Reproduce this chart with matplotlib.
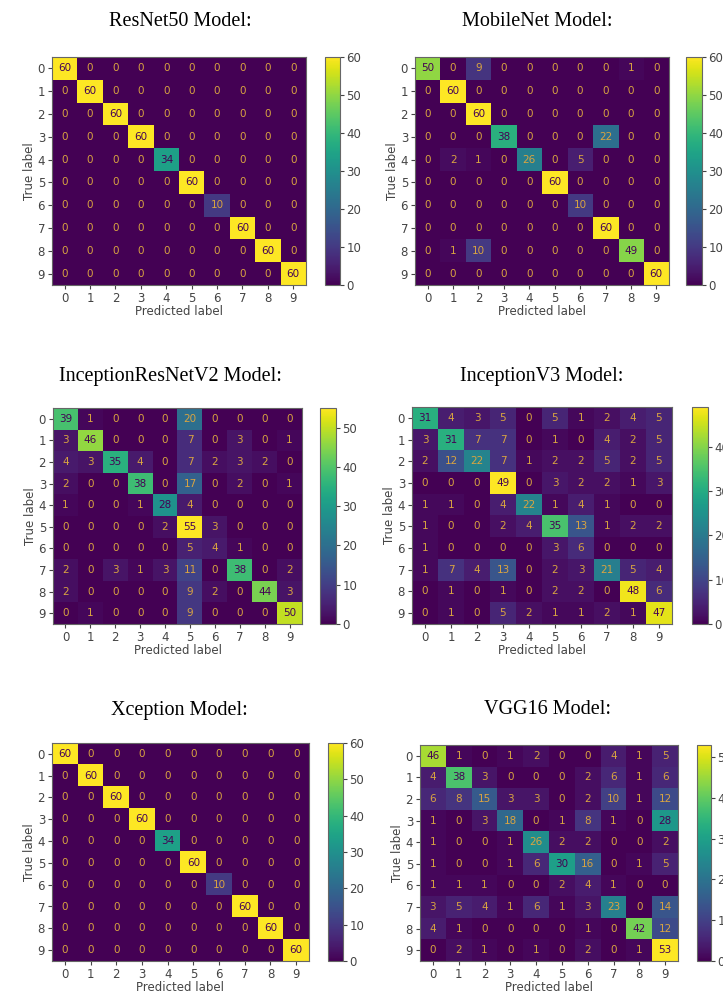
import numpy as np
import matplotlib.pyplot as plt

# class labels
labels = [0, 1, 2, 3, 4, 5, 6, 7, 8, 9]

# confusion matrices
resnet50 = [
    [60, 0, 0, 0, 0, 0, 0, 0, 0, 0],
    [0, 60, 0, 0, 0, 0, 0, 0, 0, 0],
    [0, 0, 60, 0, 0, 0, 0, 0, 0, 0],
    [0, 0, 0, 60, 0, 0, 0, 0, 0, 0],
    [0, 0, 0, 0, 34, 0, 0, 0, 0, 0],
    [0, 0, 0, 0, 0, 60, 0, 0, 0, 0],
    [0, 0, 0, 0, 0, 0, 10, 0, 0, 0],
    [0, 0, 0, 0, 0, 0, 0, 60, 0, 0],
    [0, 0, 0, 0, 0, 0, 0, 0, 60, 0],
    [0, 0, 0, 0, 0, 0, 0, 0, 0, 60],
]
mobilenet = [
    [50, 0, 9, 0, 0, 0, 0, 0, 1, 0],
    [0, 60, 0, 0, 0, 0, 0, 0, 0, 0],
    [0, 0, 60, 0, 0, 0, 0, 0, 0, 0],
    [0, 0, 0, 38, 0, 0, 0, 22, 0, 0],
    [0, 2, 1, 0, 26, 0, 5, 0, 0, 0],
    [0, 0, 0, 0, 0, 60, 0, 0, 0, 0],
    [0, 0, 0, 0, 0, 0, 10, 0, 0, 0],
    [0, 0, 0, 0, 0, 0, 0, 60, 0, 0],
    [0, 1, 10, 0, 0, 0, 0, 0, 49, 0],
    [0, 0, 0, 0, 0, 0, 0, 0, 0, 60],
]
inception_resnet_v2 = [
    [39, 1, 0, 0, 0, 20, 0, 0, 0, 0],
    [3, 46, 0, 0, 0, 7, 0, 3, 0, 1],
    [4, 3, 35, 4, 0, 7, 2, 3, 2, 0],
    [2, 0, 0, 38, 0, 17, 0, 2, 0, 1],
    [1, 0, 0, 1, 28, 4, 0, 0, 0, 0],
    [0, 0, 0, 0, 2, 55, 3, 0, 0, 0],
    [0, 0, 0, 0, 0, 5, 4, 1, 0, 0],
    [2, 0, 3, 1, 3, 11, 0, 38, 0, 2],
    [2, 0, 0, 0, 0, 9, 2, 0, 44, 3],
    [0, 1, 0, 0, 0, 9, 0, 0, 0, 50],
]
inception_v3 = [
    [31, 4, 3, 5, 0, 5, 1, 2, 4, 5],
    [3, 31, 7, 7, 0, 1, 0, 4, 2, 5],
    [2, 12, 22, 7, 1, 2, 2, 5, 2, 5],
    [0, 0, 0, 49, 0, 3, 2, 2, 1, 3],
    [1, 1, 0, 4, 22, 1, 4, 1, 0, 0],
    [1, 0, 0, 2, 4, 35, 13, 1, 2, 2],
    [1, 0, 0, 0, 0, 3, 6, 0, 0, 0],
    [1, 7, 4, 13, 0, 2, 3, 21, 5, 4],
    [0, 1, 0, 1, 0, 2, 2, 0, 48, 6],
    [0, 1, 0, 5, 2, 1, 1, 2, 1, 47],
]
xception = [
    [60, 0, 0, 0, 0, 0, 0, 0, 0, 0],
    [0, 60, 0, 0, 0, 0, 0, 0, 0, 0],
    [0, 0, 60, 0, 0, 0, 0, 0, 0, 0],
    [0, 0, 0, 60, 0, 0, 0, 0, 0, 0],
    [0, 0, 0, 0, 34, 0, 0, 0, 0, 0],
    [0, 0, 0, 0, 0, 60, 0, 0, 0, 0],
    [0, 0, 0, 0, 0, 0, 10, 0, 0, 0],
    [0, 0, 0, 0, 0, 0, 0, 60, 0, 0],
    [0, 0, 0, 0, 0, 0, 0, 0, 60, 0],
    [0, 0, 0, 0, 0, 0, 0, 0, 0, 60],
]
vgg16 = [
    [46, 1, 0, 1, 2, 0, 0, 4, 1, 5],
    [4, 38, 3, 0, 0, 0, 2, 6, 1, 6],
    [6, 8, 15, 3, 3, 0, 2, 10, 1, 12],
    [1, 0, 3, 18, 0, 1, 8, 1, 0, 28],
    [1, 0, 0, 1, 26, 2, 2, 0, 0, 2],
    [1, 0, 0, 1, 6, 30, 16, 0, 1, 5],
    [1, 1, 1, 0, 0, 2, 4, 1, 0, 0],
    [3, 5, 4, 1, 6, 1, 3, 23, 0, 14],
    [4, 1, 0, 0, 0, 0, 1, 0, 42, 12],
    [0, 2, 1, 0, 1, 0, 2, 0, 1, 53],
]

titles = ['ResNet50 Model:', 'MobileNet Model:', 'InceptionResNetV2 Model:',
          'InceptionV3 Model:', 'Xception Model:', 'VGG16 Model:']
matrices = [resnet50, mobilenet, inception_resnet_v2, inception_v3, xception, vgg16]

W, H = 723, 993
fig = plt.figure(figsize=(W / 100, H / 100), dpi=100)

# pixel boxes: (axes left, top, right, bottom), (colorbar left, right), title (x, y)
boxes = [
    ((52, 57, 306, 285), (325, 340), (180, 22)),
    ((415, 57, 669, 285), (686, 702), (537, 22)),
    ((53, 408, 302, 624), (320, 336), (170, 377)),
    ((412, 407, 672, 624), (692, 708), (542, 377)),
    ((52, 743, 309, 961), (328, 343), (179, 710)),
    ((420, 745, 678, 961), (697, 711), (547, 710)),
]

def px_box(l, t, r, b):
    return [l / W, 1 - b / H, (r - l) / W, (b - t) / H]

low_txt = '#d9a441'
high_txt = '#440154'

for cm, title, (ab, cb, tp) in zip(matrices, titles, boxes):
    cm = np.array(cm)
    ax = fig.add_axes(px_box(*ab))
    cax = fig.add_axes(px_box(cb[0], ab[1], cb[1], ab[3]))
    im = ax.imshow(cm, cmap='viridis', aspect='auto', interpolation='nearest')
    thresh = (cm.max() + cm.min()) / 2
    for i in range(cm.shape[0]):
        for j in range(cm.shape[1]):
            c = high_txt if cm[i, j] > thresh else low_txt
            ax.text(j, i, str(cm[i, j]), ha='center', va='center', color=c, fontsize=7.5)
    ax.set_xticks(range(len(labels)))
    ax.set_yticks(range(len(labels)))
    ax.set_xticklabels(labels)
    ax.set_yticklabels(labels)
    ax.tick_params(labelsize=8.5, colors='#444444', length=3, pad=2)
    ax.set_xlabel('Predicted label', fontsize=8.5, color='#444444', labelpad=0)
    ax.set_ylabel('True label', fontsize=8.5, color='#444444', labelpad=1)
    for s in ax.spines.values():
        s.set_color('#666666')
    cbar = fig.colorbar(im, cax=cax)
    cbar.ax.tick_params(labelsize=8.5, colors='#444444', length=3, pad=1.5)
    cbar.outline.set_edgecolor('#666666')
    fig.text(tp[0] / W, 1 - tp[1] / H, title, ha='center', va='center',
             fontsize=14.5, family='Liberation Serif')

fig.savefig('out.png', dpi=100)
